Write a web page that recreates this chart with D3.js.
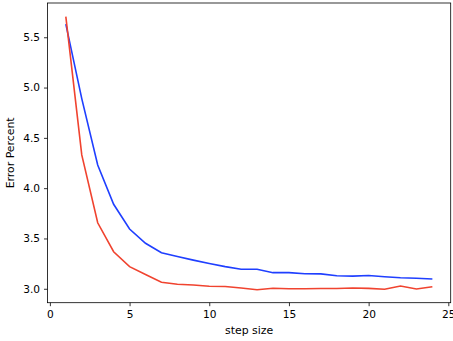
<!DOCTYPE html>
<html>
<head>
<meta charset="utf-8">
<script src="https://cdn.jsdelivr.net/npm/d3@7"></script>
<style>
  body { margin: 0; background: #fff; overflow: hidden; }
  svg text { font-family: "DejaVu Sans", sans-serif; fill: #000; }
</style>
</head>
<body>
<div id="chart"></div>
<script>
var steps = [1, 2, 3, 4, 5, 6, 7, 8, 9, 10, 11, 12, 13, 14, 15, 16, 17, 18, 19, 20, 21, 22, 23, 24];
var blueErr = [5.63, 4.89, 4.23, 3.84, 3.594, 3.452, 3.358, 3.32, 3.285, 3.252, 3.22, 3.194, 3.194, 3.16, 3.16, 3.15, 3.148, 3.13, 3.126, 3.132, 3.12, 3.11, 3.104, 3.097];
var redErr = [5.705, 4.33, 3.656, 3.368, 3.22, 3.142, 3.065, 3.045, 3.037, 3.025, 3.022, 3.008, 2.99, 3.005, 3.0, 3.0, 3.002, 3.002, 3.008, 3.004, 2.995, 3.028, 2.998, 3.02];
var xTicks = [0, 5, 10, 15, 20, 25];
var yTicks = [3.0, 3.5, 4.0, 4.5, 5.0, 5.5];

var w = 453, h = 341;
var plotLeft = 47.5, plotRight = 450.7, plotTop = 3, plotBottom = 302.7;

var svg = d3.select("#chart")
            .append("svg")
            .attr("width", w)
            .attr("height", h);

var xScale = d3.scaleLinear()
               .domain([-0.15, 25.15])
               .range([plotLeft, plotRight]);

var yScale = d3.scaleLinear()
               .domain([2.8615, 5.8405])
               .range([plotBottom, plotTop]);

var xAxis = d3.axisBottom(xScale)
              .tickValues(xTicks)
              .tickSize(3.5)
              .tickPadding(4)
              .tickFormat(d3.format("d"));

var yAxis = d3.axisLeft(yScale)
              .tickValues(yTicks)
              .tickSize(3.5)
              .tickPadding(4)
              .tickFormat(d3.format(".1f"));

svg.append("g")
   .attr("transform", "translate(0," + plotBottom + ")")
   .call(xAxis);

svg.append("g")
   .attr("transform", "translate(" + plotLeft + ",0)")
   .call(yAxis);

svg.selectAll(".tick text")
   .attr("font-family", "DejaVu Sans")
   .attr("font-size", null)
   .style("font-size", "10.6px");
svg.selectAll(".domain").remove();
svg.selectAll(".tick line").attr("stroke", "#000").attr("stroke-width", 0.8);

// frame
svg.append("rect")
   .attr("x", plotLeft)
   .attr("y", plotTop)
   .attr("width", plotRight - plotLeft)
   .attr("height", plotBottom - plotTop)
   .attr("fill", "none")
   .attr("stroke", "#000")
   .attr("stroke-width", 0.8);

var line = function(vals) {
  return d3.line()
           .x(function(d, i) { return xScale(steps[i]); })
           .y(function(d) { return yScale(d); })(vals);
};

svg.append("path")
   .attr("d", line(blueErr))
   .attr("fill", "none")
   .attr("stroke", "#1f3fff")
   .attr("stroke-width", 1.6);

svg.append("path")
   .attr("d", line(redErr))
   .attr("fill", "none")
   .attr("stroke", "#f0432f")
   .attr("stroke-width", 1.6);

svg.append("text")
   .attr("x", (plotLeft + plotRight) / 2)
   .attr("y", 334)
   .attr("text-anchor", "middle")
   .style("font-size", "10.9px")
   .text("step size");

svg.append("text")
   .attr("transform", "translate(14," + ((plotTop + plotBottom) / 2) + ") rotate(-90)")
   .attr("text-anchor", "middle")
   .style("font-size", "10.9px")
   .text("Error Percent");
</script>
</body>
</html>
